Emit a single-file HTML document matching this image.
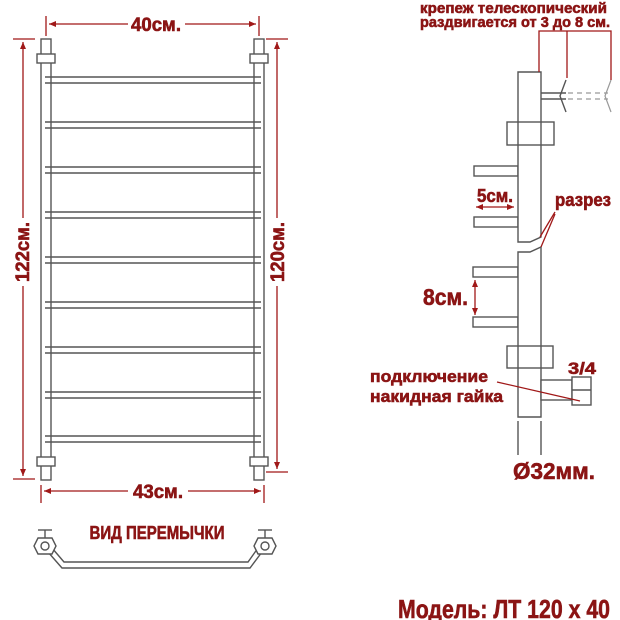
<!DOCTYPE html>
<html><head><meta charset="utf-8"><style>
html,body{margin:0;padding:0;background:#fff;}
svg{display:block;}
text{font-family:"Liberation Sans","DejaVu Sans",sans-serif;font-weight:bold;fill:#8b1414;stroke:#8b1414;stroke-width:0.6;}
</style></head><body>
<svg width="620" height="620" viewBox="0 0 620 620" xmlns="http://www.w3.org/2000/svg">
<defs>
<marker id="a" markerWidth="8" markerHeight="8" refX="7" refY="4" orient="auto-start-reverse" markerUnits="userSpaceOnUse"><path d="M0,1 L7,4 L0,7 Z" fill="#a01818"/></marker>
</defs>
<g stroke="#555" stroke-width="1.4" fill="none">
<rect x="41" y="39" width="10" height="441" fill="#fff"/>
<rect x="254" y="39" width="10" height="441" fill="#fff"/>
<rect x="37" y="54" width="18" height="9" fill="#fff"/>
<rect x="250" y="54" width="18" height="9" fill="#fff"/>
<rect x="37" y="457" width="18" height="9" fill="#fff"/>
<rect x="250" y="457" width="18" height="9" fill="#fff"/>
</g>
<g stroke="#555" stroke-width="1.4">
<line x1="45" y1="77" x2="261" y2="77"/><line x1="45" y1="83" x2="261" y2="83"/>
<line x1="45" y1="122" x2="261" y2="122"/><line x1="45" y1="128" x2="261" y2="128"/>
<line x1="45" y1="167" x2="261" y2="167"/><line x1="45" y1="173" x2="261" y2="173"/>
<line x1="45" y1="212" x2="261" y2="212"/><line x1="45" y1="218" x2="261" y2="218"/>
<line x1="45" y1="257" x2="261" y2="257"/><line x1="45" y1="263" x2="261" y2="263"/>
<line x1="45" y1="302" x2="261" y2="302"/><line x1="45" y1="308" x2="261" y2="308"/>
<line x1="45" y1="347" x2="261" y2="347"/><line x1="45" y1="353" x2="261" y2="353"/>
<line x1="45" y1="392" x2="261" y2="392"/><line x1="45" y1="398" x2="261" y2="398"/>
<line x1="45" y1="436" x2="261" y2="436"/><line x1="45" y1="442" x2="261" y2="442"/>
</g>
<g stroke="#a01818" stroke-width="1.3" fill="none">
<line x1="46" y1="16" x2="46" y2="36"/><line x1="259" y1="16" x2="259" y2="36"/>
<line x1="49" y1="24" x2="128" y2="24" marker-start="url(#a)"/><line x1="185" y1="24" x2="256" y2="24" marker-end="url(#a)"/>
<line x1="13" y1="39" x2="35" y2="39"/><line x1="13" y1="479" x2="35" y2="479"/>
<line x1="23" y1="42" x2="23" y2="218" marker-start="url(#a)"/><line x1="23" y1="286" x2="23" y2="476" marker-end="url(#a)"/>
<line x1="266" y1="39" x2="288" y2="39"/><line x1="266" y1="472" x2="288" y2="472"/>
<line x1="277" y1="42" x2="277" y2="218" marker-start="url(#a)"/><line x1="277" y1="286" x2="277" y2="469" marker-end="url(#a)"/>
<line x1="41" y1="485" x2="41" y2="503"/><line x1="264" y1="485" x2="264" y2="503"/>
<line x1="44" y1="491" x2="128" y2="491" marker-start="url(#a)"/><line x1="188" y1="491" x2="261" y2="491" marker-end="url(#a)"/>
</g>
<text x="156" y="31" font-size="19" text-anchor="middle" textLength="50" lengthAdjust="spacingAndGlyphs">40см.</text>
<text x="158" y="498" font-size="19" text-anchor="middle" textLength="50" lengthAdjust="spacingAndGlyphs">43см.</text>
<text transform="translate(29,252) rotate(-90)" font-size="19" text-anchor="middle" textLength="60" lengthAdjust="spacingAndGlyphs">122см.</text>
<text transform="translate(284,252) rotate(-90)" font-size="19" text-anchor="middle" textLength="60" lengthAdjust="spacingAndGlyphs">120см.</text>
<text x="157" y="539" font-size="18" text-anchor="middle" textLength="135" lengthAdjust="spacingAndGlyphs">ВИД ПЕРЕМЫЧКИ</text>
<g stroke="#555" stroke-width="1.4" fill="#fff">
<path d="M48,552 L62,568 L250,568 L262,552"/>
<path d="M52,548 L64,562 L248,562 L258,548" fill="none"/>
<polygon points="38,538 52,538 56,546 52,554 38,554 34,546"/>
<circle cx="45" cy="546" r="4"/>
<polygon points="258,538 272,538 276,546 272,554 258,554 254,546"/>
<circle cx="265" cy="546" r="4"/>
<line x1="45" y1="530" x2="45" y2="538"/><line x1="38" y1="530" x2="52" y2="530"/>
<line x1="265" y1="530" x2="265" y2="538"/><line x1="258" y1="530" x2="272" y2="530"/>
</g>
<g stroke="#555" stroke-width="1.4" fill="#fff">
<rect x="474" y="166" width="44" height="10"/><rect x="474" y="217" width="44" height="10"/>
<rect x="473" y="267" width="45" height="10"/><rect x="473" y="317" width="45" height="10"/>
<path d="M518,72 L541,72 L541,237 L530,242 L518,242 Z"/>
<path d="M518,252 L530,252 L541,247 L541,417 L518,417 Z"/>
<rect x="507" y="122" width="47" height="23" fill="none"/>
<rect x="507" y="346" width="46" height="22" fill="none"/>
<rect x="541" y="380" width="31" height="20"/>
<rect x="572" y="377" width="19" height="28"/>
<line x1="572" y1="390" x2="591" y2="390"/>
<line x1="541" y1="93" x2="566" y2="93"/><line x1="541" y1="99" x2="566" y2="99"/>
<path d="M566,80 L560,96 L566,112" fill="none"/>
<line x1="518" y1="421" x2="518" y2="455"/><line x1="541" y1="421" x2="541" y2="455"/>
</g>
<g stroke="#999" stroke-width="1.2" fill="none">
<line x1="568" y1="93" x2="608" y2="93" stroke-dasharray="5,4"/><line x1="568" y1="99" x2="608" y2="99" stroke-dasharray="5,4"/>
<path d="M611,80 L605,96 L611,112"/>
</g>
<g stroke="#a01818" stroke-width="1.3" fill="none">
<polyline points="539,72 539,31 611,31 611,80"/>
<line x1="567" y1="31" x2="567" y2="78"/>
<line x1="476" y1="207" x2="514" y2="207" marker-start="url(#a)" marker-end="url(#a)"/>
<line x1="475" y1="280" x2="475" y2="315" marker-start="url(#a)" marker-end="url(#a)"/>
<line x1="555" y1="212" x2="540" y2="237"/><line x1="555" y1="214" x2="541" y2="247"/>
<line x1="497" y1="382" x2="580" y2="401"/>
</g>
<text x="420" y="13" font-size="15" textLength="187" lengthAdjust="spacingAndGlyphs">крепеж телескопический</text>
<text x="420" y="27" font-size="15" textLength="190" lengthAdjust="spacingAndGlyphs">раздвигается от 3 до 8 см.</text>
<text x="477" y="202" font-size="18" textLength="36" lengthAdjust="spacingAndGlyphs">5см.</text>
<text x="555" y="206" font-size="18" textLength="56" lengthAdjust="spacingAndGlyphs">разрез</text>
<text x="423" y="305" font-size="23" textLength="45" lengthAdjust="spacingAndGlyphs">8см.</text>
<text x="568" y="374" font-size="17" textLength="28" lengthAdjust="spacingAndGlyphs">3/4</text>
<text x="370" y="382" font-size="17" textLength="118" lengthAdjust="spacingAndGlyphs">подключение</text>
<text x="370" y="402" font-size="17" textLength="133" lengthAdjust="spacingAndGlyphs">накидная гайка</text>
<text x="513" y="479" font-size="23" textLength="82" lengthAdjust="spacingAndGlyphs">Ø32мм.</text>
<text x="398" y="618" font-size="26" textLength="212" lengthAdjust="spacingAndGlyphs">Модель: ЛТ 120 х 40</text>
</svg>
</body></html>
